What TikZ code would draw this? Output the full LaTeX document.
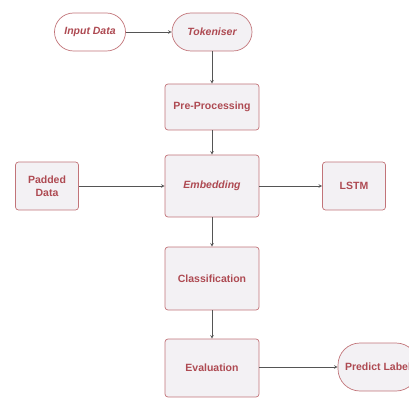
\documentclass[tikz,border=0pt]{standalone}
\usepackage{fontspec}
\setmainfont{Liberation Sans}
\definecolor{boxline}{HTML}{C27479}
\definecolor{boxtext}{HTML}{AE4A52}
\definecolor{boxfill}{HTML}{F3F1F4}
\definecolor{arrowgrey}{HTML}{555555}
\begin{document}
\begin{tikzpicture}[x=1pt,y=-1pt,>=stealth,
  proc/.style={draw=boxline,fill=boxfill,rounded corners=3pt,line width=0.7pt,
    text=boxtext,font=\fontsize{10.5}{12.5}\selectfont\bfseries,align=center,inner sep=0pt},
  term/.style={proc,rounded corners=19pt},
  flow/.style={->,draw=arrowgrey,line width=0.6pt}]
\useasboundingbox (0,0) rectangle (409,398);
\clip (0,0) rectangle (409,398);

\node[term,fill=white,minimum width=71pt,minimum height=38pt] (input) at (90,32) {\itshape Input Data};
\node[term,minimum width=80pt,minimum height=38pt] (token) at (212,32) {\itshape Tokeniser};
\node[proc,minimum width=94pt,minimum height=46pt] (pre) at (212,107) {Pre-Processing};
\node[proc,minimum width=94pt,minimum height=62pt] (embed) at (212,186) {\itshape Embedding};
\node[proc,minimum width=63pt,minimum height=48pt] (padded) at (47,186) {Padded\\Data};
\node[proc,minimum width=63pt,minimum height=48pt] (lstm) at (354,186) {LSTM};
\node[proc,minimum width=94pt,minimum height=63pt] (classify) at (212,278.5) {Classification};
\node[proc,minimum width=94pt,minimum height=58pt] (eval) at (212,368) {Evaluation};
\node[term,minimum width=80pt,minimum height=48pt,rounded corners=22pt] (predict) at (378,367) {Predict Label};

\draw[flow] (input)--(token);
\draw[flow] (token)--(pre);
\draw[flow] (pre)--(embed);
\draw[flow] (padded)--(embed);
\draw[flow] (embed)--(lstm);
\draw[flow] (embed)--(classify);
\draw[flow] (classify)--(eval);
\draw[flow] (eval.east|-predict.west)--(predict.west);
\end{tikzpicture}
\end{document}
